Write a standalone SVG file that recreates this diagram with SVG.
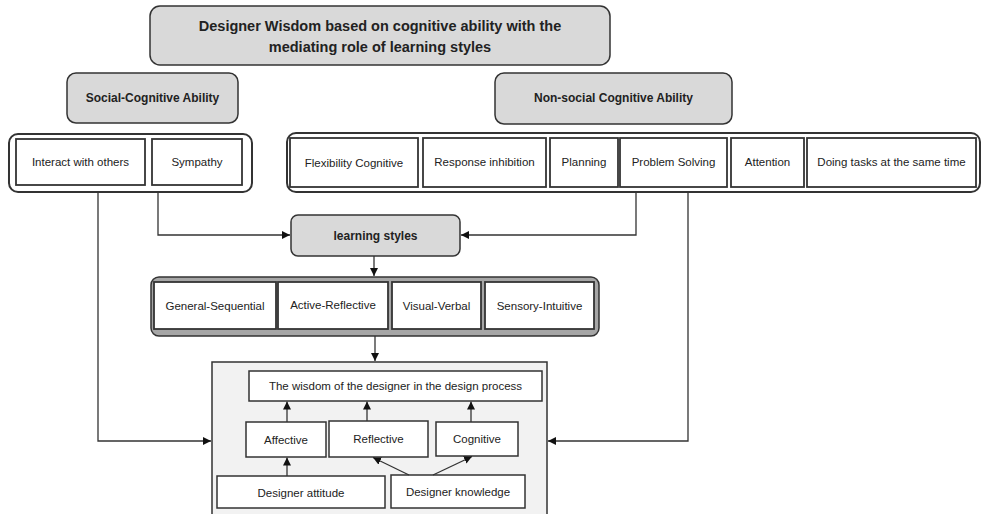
<svg xmlns="http://www.w3.org/2000/svg" width="981" height="514" viewBox="0 0 981 514">
<style>
text{font-family:"Liberation Sans",Arial,sans-serif;fill:#222;text-anchor:middle;dominant-baseline:central}
.h{font-weight:bold;font-size:12px}
.t{font-size:11.5px}
.head{fill:#d9d9d9;stroke:#333;stroke-width:1.5}
.cont{fill:#fff;stroke:#333;stroke-width:2}
.lcont{fill:#a6a6a6;stroke:#333;stroke-width:1.5}
.box{fill:#fff;stroke:#333;stroke-width:1.8}
.ibox{fill:#fff;stroke:#333;stroke-width:1.5}
.big{fill:#f2f2f2;stroke:#333;stroke-width:1.5}
.c{fill:none;stroke:#333;stroke-width:1.3}
</style>
<defs>
<marker id="ar" viewBox="0 0 10 10" refX="10" refY="5" markerWidth="8" markerHeight="8" orient="auto" markerUnits="userSpaceOnUse"><path d="M0,0L10,5L0,10z" fill="#111"/></marker>
</defs>
<rect width="981" height="514" fill="#fff"/>

<g id="title">
<rect class="head" x="150" y="6" width="460" height="59" rx="10"/>
<text class="h" x="380" y="26" style="font-size:14.5px">Designer Wisdom based on cognitive ability with the</text>
<text class="h" x="380" y="47" style="font-size:14.5px">mediating role of learning styles</text>
</g>

<g id="social-cognitive">
<rect class="head" x="67" y="73" width="171" height="50" rx="9"/>
<text class="h" x="152.5" y="98">Social-Cognitive Ability</text>
</g>

<g id="non-social">
<rect class="head" x="495" y="73" width="237" height="51" rx="9"/>
<text class="h" x="613.5" y="98">Non-social Cognitive Ability</text>
</g>

<g id="social-items">
<rect class="cont" x="9" y="134" width="243" height="58" rx="9"/>
<g id="interact"><rect class="box" x="16" y="139" width="129" height="46"/><text class="t" x="80.5" y="162">Interact with others</text></g>
<g id="sympathy"><rect class="box" x="152" y="139" width="90" height="46"/><text class="t" x="197" y="162">Sympathy</text></g>
</g>

<g id="nonsocial-items">
<rect class="cont" x="287" y="133" width="693" height="59" rx="9"/>
<g id="flexibility"><rect class="box" x="290" y="138" width="128" height="49"/><text class="t" x="354" y="163">Flexibility Cognitive</text></g>
<g id="response"><rect class="box" x="423" y="138" width="123" height="49"/><text class="t" x="484.5" y="162">Response inhibition</text></g>
<g id="planning"><rect class="box" x="550" y="138" width="68" height="49"/><text class="t" x="584" y="162">Planning</text></g>
<g id="problem"><rect class="box" x="620" y="138" width="107" height="49"/><text class="t" x="673.5" y="162">Problem Solving</text></g>
<g id="attention"><rect class="box" x="731" y="138" width="73" height="49"/><text class="t" x="767.5" y="162">Attention</text></g>
<g id="doing"><rect class="box" x="807" y="138" width="169" height="49"/><text class="t" x="891.5" y="162">Doing tasks at the same time</text></g>
</g>

<g id="learning-styles">
<rect class="head" x="291" y="215" width="169" height="41" rx="7"/>
<text class="h" x="375.5" y="236">learning styles</text>
</g>

<g id="styles-items">
<rect class="lcont" x="151" y="277" width="448" height="59" rx="8"/>
<g id="general"><rect class="box" x="154" y="282" width="122" height="47"/><text class="t" x="215" y="306">General-Sequential</text></g>
<g id="active"><rect class="box" x="278" y="282" width="110" height="47"/><text class="t" x="333" y="305">Active-Reflective</text></g>
<g id="visual"><rect class="box" x="392" y="282" width="89" height="47"/><text class="t" x="436.5" y="306">Visual-Verbal</text></g>
<g id="sensory"><rect class="box" x="485" y="282" width="109" height="47"/><text class="t" x="539.5" y="306">Sensory-Intuitive</text></g>
</g>

<g id="wisdom-frame">
<rect class="big" x="212" y="362" width="335" height="160"/>
</g>
<g id="wisdom"><rect class="ibox" x="249" y="371" width="293" height="30"/><text class="t" x="395.5" y="386">The wisdom of the designer in the design process</text></g>
<g id="affective"><rect class="ibox" x="246" y="422" width="80" height="35"/><text class="t" x="286" y="440">Affective</text></g>
<g id="reflective"><rect class="ibox" x="329" y="421" width="99" height="36"/><text class="t" x="378.5" y="439">Reflective</text></g>
<g id="cognitive"><rect class="ibox" x="436" y="422" width="82" height="34"/><text class="t" x="477" y="439">Cognitive</text></g>
<g id="attitude"><rect class="ibox" x="217" y="476" width="168" height="32"/><text class="t" x="301" y="493">Designer attitude</text></g>
<g id="knowledge"><rect class="ibox" x="391" y="475" width="134" height="33"/><text class="t" x="458" y="492">Designer knowledge</text></g>

<g id="connectors">
<path class="c" d="M158,192V235H290" marker-end="url(#ar)"/>
<path class="c" d="M636,192V235H461" marker-end="url(#ar)"/>
<path class="c" d="M374,256V276" marker-end="url(#ar)"/>
<path class="c" d="M375,336V361" marker-end="url(#ar)"/>
<path class="c" d="M98,192V441H211" marker-end="url(#ar)"/>
<path class="c" d="M688,192V441H548" marker-end="url(#ar)"/>
<path class="c" d="M287,422V401.5" marker-end="url(#ar)"/>
<path class="c" d="M367,421V401.5" marker-end="url(#ar)"/>
<path class="c" d="M471,422V401.5" marker-end="url(#ar)"/>
<path class="c" d="M287,476V457.5" marker-end="url(#ar)"/>
<path class="c" d="M409,475L373,457.5" marker-end="url(#ar)"/>
<path class="c" d="M433,475L472,456.5" marker-end="url(#ar)"/>
</g>
</svg>
